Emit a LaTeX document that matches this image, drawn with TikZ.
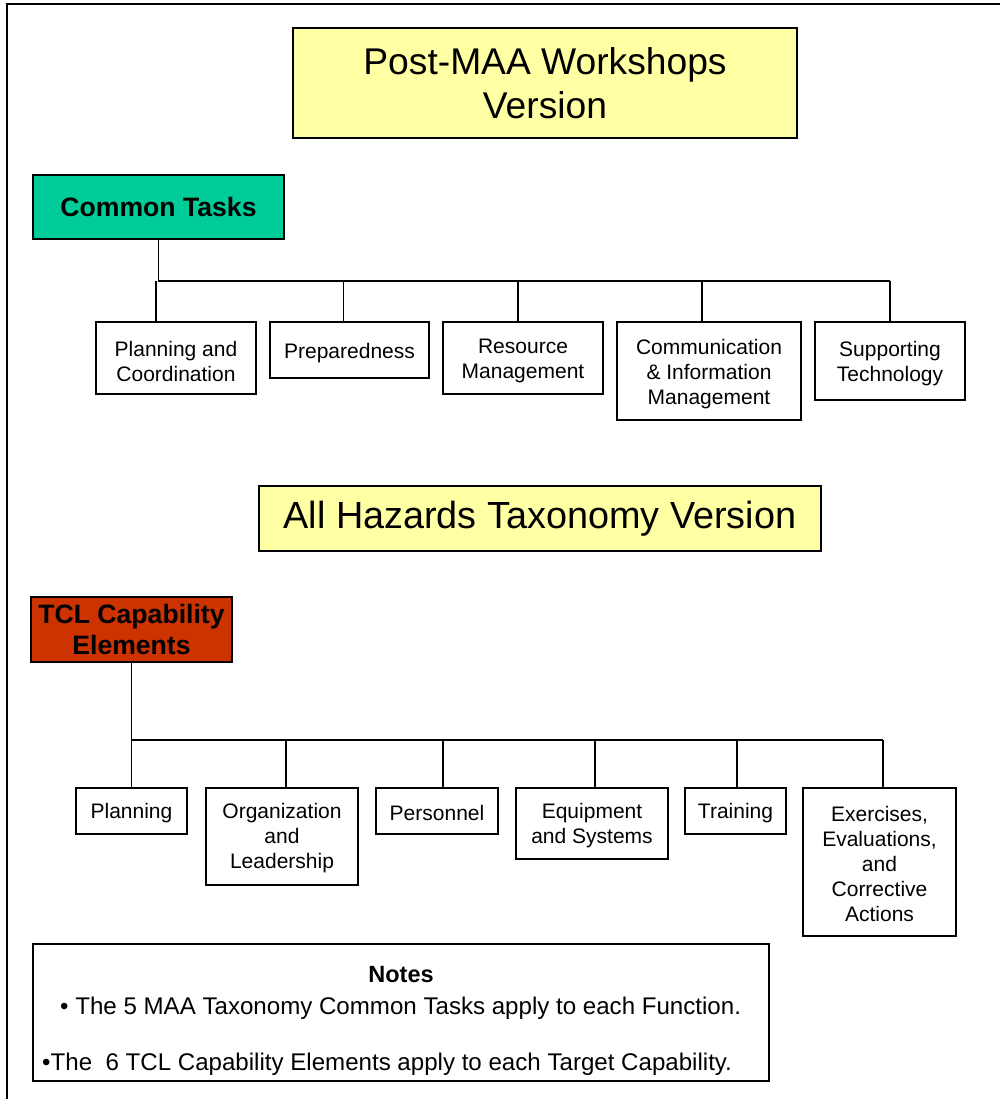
\documentclass[tikz,border=0pt]{standalone}
\usepackage{fontspec}
\setmainfont{Liberation Sans}
\usepackage{tikz}
\usetikzlibrary{positioning}

\definecolor{titleyellow}{HTML}{FFFFA3}
\definecolor{taskgreen}{HTML}{00CC99}
\definecolor{elemred}{HTML}{CC3300}

\begin{document}
\begin{tikzpicture}[x=1pt, y=-1pt,
  every box/.style={draw, line width=1.3pt, inner sep=0pt, align=center},
  title box/.style={every box/.try, fill=titleyellow},
  head box/.style={every box/.try, font=\fontsize{26.6}{31}\selectfont\bfseries},
  leaf box/.style={every box/.try, fill=white, font=\fontsize{21}{25}\selectfont},
  link/.style={line width=1.3pt}]

\useasboundingbox (0,0) rectangle (1000,1099);
\draw [line width=2pt] (7,1099) -- (7,4) -- (1000,4);

% titles
\node [title box, minimum width=504pt, minimum height=110pt,
  font=\fontsize{37.2}{44}\selectfont] (title-maa) at (545,83)
  {Post-MAA Workshops\\Version};
\node [title box, minimum width=562pt, minimum height=65pt,
  font=\fontsize{37.8}{44}\selectfont] (title-tcl) at (540,518.5)
  {All Hazards Taxonomy Version};

% roots
\node [head box, fill=taskgreen, minimum width=251pt, minimum height=64pt]
  (tasks) at (158.5,207) {Common Tasks};
\node [head box, fill=elemred, minimum width=201pt, minimum height=65pt]
  (elems) at (131.5,629.5) {TCL Capability\\Elements};

% common tasks
\foreach \l/\cx/\cy/\w/\h [count=\i] in {
    {Planning and\\Coordination}/176/358/160/72,
    {Preparedness}/349.5/350/159/56,
    {Resource\\Management}/523/358/160/72,
    {Communication\\\& Information\\Management}/709/371/184/98,
    {Supporting\\Technology}/890/361/150/78}
  \node [leaf box, minimum width=\w pt, minimum height=\h pt] (task-\i) at (\cx,\cy)
    {\raisebox{-3pt}[\height][\depth]{\parbox{\w pt}{\centering\l}}};

% capability elements
\foreach \l/\cx/\cy/\w/\h [count=\i] in {
    {Planning}/131.5/811/111/46,
    {Organization\\and\\Leadership}/282/836.5/152/97,
    {Personnel}/437/811/122/46,
    {Equipment\\and Systems}/592/823.5/152/71,
    {Training}/735.5/811/101/46,
    {Exercises,\\Evaluations,\\and\\Corrective\\Actions}/879.5/862/153/148}
  \node [leaf box, minimum width=\w pt, minimum height=\h pt] (elem-\i) at (\cx,\cy)
    {\raisebox{-2pt}[\height][\depth]{\parbox{\w pt}{\centering\l}}};

% connectors
\coordinate (task-bus) at (158.5,281);
\coordinate (elem-bus) at (131.5,740);
\coordinate (task-end) at (task-5.north);
\coordinate (elem-end) at ([xshift=3.5pt]elem-6.north);
\draw [link] (tasks.south) -- (task-bus) -- (task-bus -| task-end);
\draw [link] (elems.south) -- (elem-bus) -- (elem-bus -| elem-end);

\foreach \d [count=\i] in {-20,-6,-5,-7,0}
  \draw [link] ([xshift=\d pt]task-\i.north) -- ([xshift=\d pt]task-\i.north |- task-bus);
\foreach \d [count=\i] in {0,4,6,3,1.5,3.5}
  \draw [link] ([xshift=\d pt]elem-\i.north) -- ([xshift=\d pt]elem-\i.north |- elem-bus);

% notes
\node [every box/.try, minimum width=736pt, minimum height=137pt] (notes) at (401,1012.5) {};
\node [font=\fontsize{23.5}{26}\selectfont\bfseries] (notes-head) at (401,975) {Notes};
\node [anchor=west, inner sep=0pt, font=\fontsize{24.1}{28}\selectfont] (note-1) at (60,1008.5)
  {• The 5 MAA Taxonomy Common Tasks apply to each Function.};
\node [anchor=west, inner sep=0pt, font=\fontsize{24.1}{28}\selectfont] (note-2) at (42,1064)
  {•The\ \ 6 TCL Capability Elements apply to each Target Capability.};
\end{tikzpicture}
\end{document}
